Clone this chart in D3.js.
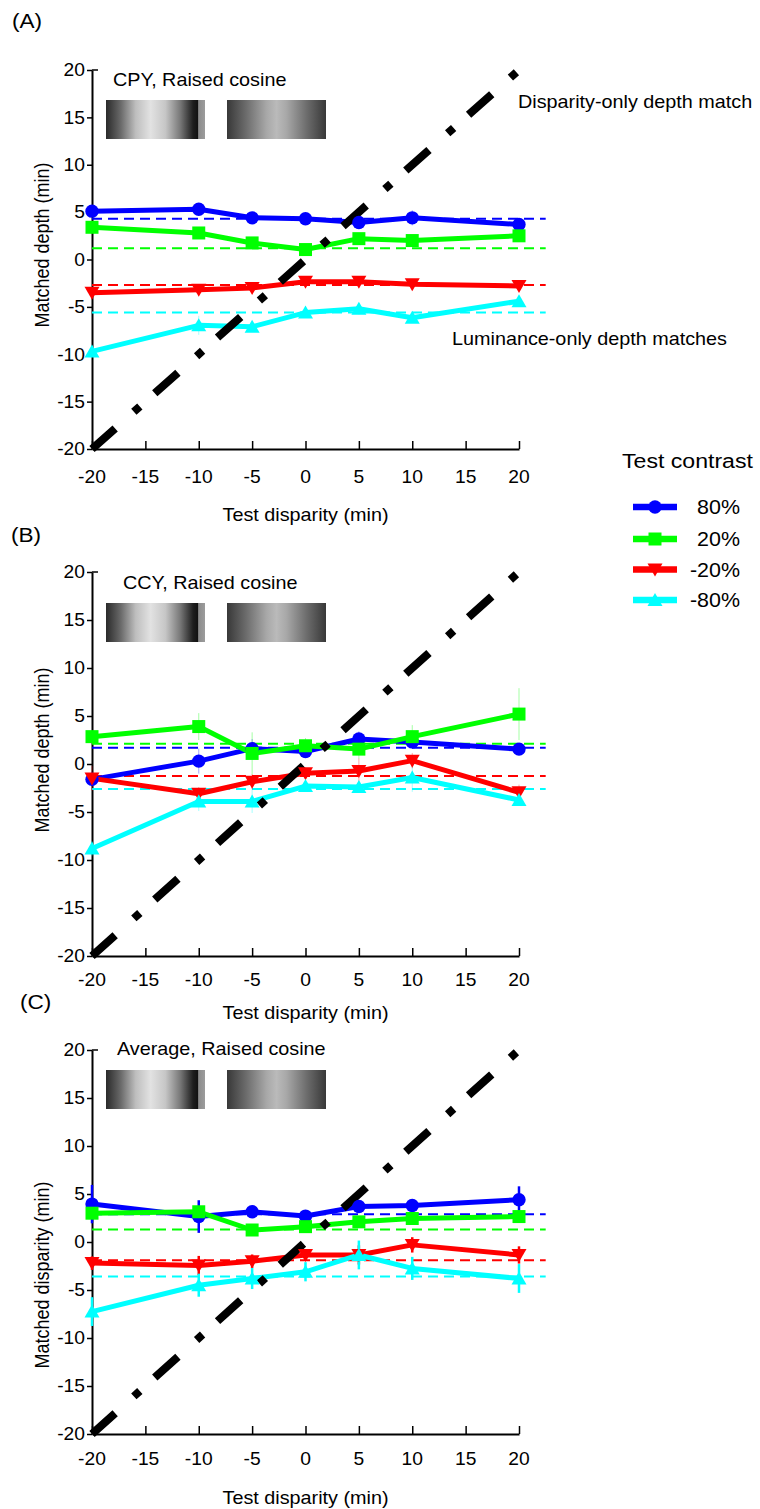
<!DOCTYPE html>
<html><head><meta charset="utf-8">
<script src="https://cdn.jsdelivr.net/npm/d3@7"></script>
<style>
body{margin:0;background:#fff}
svg{display:block}
text{font-family:"Liberation Sans",Arial,Helvetica,sans-serif;fill:#000}
</style>
</head><body>
<svg id="chart" width="760" height="1509"></svg>
<script>
// ---------- data ----------
const disparities = [-20, -10, -5, 0, 5, 10, 20];
const contrastLabels = ["80%", "20%", "-20%", "-80%"];
const xTickValues = [-20, -15, -10, -5, 0, 5, 10, 15, 20];
const yTickValues = [-20, -15, -10, -5, 0, 5, 10, 15, 20];

// Panel A: CPY
const cpy80  = [5.1, 5.3, 4.4, 4.3, 3.9, 4.4, 3.7];
const cpy20  = [3.4, 2.8, 1.75, 1.05, 2.2, 2.0, 2.5];
const cpyN20 = [-3.5, -3.2, -3.0, -2.35, -2.35, -2.6, -2.8];
const cpyN80 = [-9.7, -6.95, -7.1, -5.6, -5.2, -6.15, -4.4];
const cpyErr80  = [0.5, 0.4, 0.4, 0.3, 0.5, 0.8, 0.4];
const cpyErr20  = [0.5, 0.4, 0.4, 0.6, 0.4, 0.4, 0.4];
const cpyErrN20 = [0.5, 0.4, 0.6, 0.4, 0.5, 0.4, 0.4];
const cpyErrN80 = [0.6, 1.0, 0.5, 0.5, 0.6, 0.5, 0.5];
const cpyLuminanceOnly = [4.3, 1.2, -2.7, -5.6];

// Panel B: CCY
const ccy80  = [-1.6, 0.3, 1.6, 1.3, 2.6, 2.3, 1.55];
const ccy20  = [2.85, 3.9, 1.1, 1.9, 1.55, 2.85, 5.2];
const ccyN20 = [-1.5, -3.1, -1.85, -0.97, -0.73, 0.35, -2.95];
const ccyN80 = [-8.8, -3.9, -3.9, -2.3, -2.4, -1.4, -3.75];
const ccyErr80  = [0.8, 1.3, 1.0, 0.6, 0.8, 0.7, 0.6];
const ccyErr20  = [0.7, 1.4, 2.2, 0.8, 1.0, 1.2, 2.7];
const ccyErrN20 = [1.3, 0.7, 0.8, 0.6, 1.3, 0.8, 0.8];
const ccyErrN80 = [0.8, 1.0, 1.2, 0.5, 0.6, 1.5, 0.6];
const ccyLuminanceOnly = [1.7, 2.1, -1.25, -2.6];

// Panel C: Average
const avg80  = [3.95, 2.65, 3.15, 2.7, 3.7, 3.8, 4.4];
const avg20  = [3.0, 3.15, 1.25, 1.6, 2.1, 2.45, 2.65];
const avgN20 = [-2.2, -2.45, -2.0, -1.35, -1.35, -0.3, -1.35];
const avgN80 = [-7.25, -4.5, -3.8, -3.1, -1.35, -2.75, -3.8];
const avgErr80  = [2.0, 1.7, 0.6, 0.5, 0.5, 0.5, 1.4];
const avgErr20  = [0.6, 0.6, 0.5, 0.5, 0.5, 0.5, 0.6];
const avgErrN20 = [0.7, 1.0, 0.7, 0.6, 1.0, 0.8, 0.9];
const avgErrN80 = [1.5, 1.2, 1.1, 1.0, 1.5, 1.2, 1.5];
const avgLuminanceOnly = [2.9, 1.3, -1.9, -3.6];

// ---------- styles ----------
const colors = ["#0000ff", "#00ff00", "#ff0000", "#00ffff"];
const markerTypes = ["circle", "square", "down", "up"];
const SX = 1.1; // horizontal text stretch of the original figure

const svg = d3.select("#chart");

function txt(sel, x, y, s, size, anchor) {
  return sel.append("text")
    .attr("transform", `translate(${x},${y}) scale(${SX},1)`)
    .attr("font-size", size)
    .attr("text-anchor", anchor || "start")
    .text(s);
}

function markerPath(type) {
  if (type === "circle") return d3.symbol(d3.symbolCircle, 140)();
  if (type === "square") return "M-6.5,-6.5H6.5V6.5H-6.5Z";
  if (type === "down") return "M-7.5,-6L7.5,-6L0,7Z";
  return "M-7.5,6L7.5,6L0,-7Z";
}

// gradient definitions for the stimulus thumbnails
const defs = svg.append("defs");
const g1 = defs.append("linearGradient").attr("id", "stim1");
[[0, "#2a2a2a"], [0.15, "#6a6a6a"], [0.3, "#bebebe"], [0.45, "#e2e2e2"], [0.6, "#c6c6c6"],
 [0.75, "#787878"], [0.88, "#1e1e1e"], [0.93, "#111"], [0.935, "#8c8c8c"], [1, "#9c9c9c"]]
  .forEach(([o, c]) => g1.append("stop").attr("offset", o).attr("stop-color", c));
const g2 = defs.append("linearGradient").attr("id", "stim2");
[[0, "#383838"], [0.2, "#6e6e6e"], [0.4, "#a8a8a8"], [0.5, "#bababa"], [0.6, "#a8a8a8"],
 [0.8, "#6e6e6e"], [1, "#383838"]]
  .forEach(([o, c]) => g2.append("stop").attr("offset", o).attr("stop-color", c));

const panels = [
  { label: "(A)", labelX: 12, labelY: 28, top: 70, bottom: 449,
    header: "CPY, Raised cosine", headerX: 113, headerY: 86, stimY: 100,
    series: [cpy80, cpy20, cpyN20, cpyN80], errs: [cpyErr80, cpyErr20, cpyErrN20, cpyErrN80],
    means: cpyLuminanceOnly, errStyle: "faint",
    xLabelOff: 28, xTitleY: 521, yTitle: "Matched depth (min)", yTitleCenter: 245 },
  { label: "(B)", labelX: 11, labelY: 542, top: 572, bottom: 956,
    header: "CCY, Raised cosine", headerX: 123, headerY: 589, stimY: 603,
    series: [ccy80, ccy20, ccyN20, ccyN80], errs: [ccyErr80, ccyErr20, ccyErrN20, ccyErrN80],
    means: ccyLuminanceOnly, errStyle: "faint",
    xLabelOff: 24, xTitleY: 1019, yTitle: "Matched depth (min)", yTitleCenter: 750 },
  { label: "(C)", labelX: 20, labelY: 1009, top: 1050, bottom: 1434,
    header: "Average, Raised cosine", headerX: 117, headerY: 1055, stimY: 1070,
    series: [avg80, avg20, avgN20, avgN80], errs: [avgErr80, avgErr20, avgErrN20, avgErrN80],
    means: avgLuminanceOnly, errStyle: "solid",
    xLabelOff: 25, xTitleY: 1504, yTitle: "Matched disparity (min)", yTitleCenter: 1275 }
];

const LEFT = 92, RIGHT = 519;

panels.forEach(p => {
  const g = svg.append("g");
  const x = d3.scaleLinear().domain([-20, 20]).range([LEFT, RIGHT]);
  const y = d3.scaleLinear().domain([-20, 20]).range([p.bottom, p.top]);

  // panel label
  txt(g, p.labelX, p.labelY, p.label, 20.5);

  // stimulus thumbnails
  g.append("rect").attr("x", LEFT + 14).attr("y", p.stimY).attr("width", 99).attr("height", 39)
    .attr("fill", "url(#stim1)");
  g.append("rect").attr("x", LEFT + 135).attr("y", p.stimY).attr("width", 99).attr("height", 39)
    .attr("fill", "url(#stim2)");
  txt(g, p.headerX, p.headerY, p.header, 18);

  // axes
  const yAxis = d3.axisLeft(y).tickValues(yTickValues).tickSize(5).tickPadding(4).tickSizeOuter(0);
  const ya = g.append("g").attr("transform", `translate(${LEFT},0)`).call(yAxis);
  ya.select(".domain").attr("stroke", "#000").attr("stroke-width", 2);
  ya.selectAll(".tick line").attr("stroke-width", 1.5);
  ya.selectAll(".tick text").remove();
  yTickValues.forEach(v => txt(g, LEFT - 7, y(v) + 6.3, String(v), 17.5, "end"));
  // inward tick at top
  g.append("line").attr("x1", LEFT).attr("x2", LEFT + 6).attr("y1", y(20)).attr("y2", y(20))
    .attr("stroke", "#000").attr("stroke-width", 1.5);

  const xAxis = d3.axisBottom(x).tickValues(xTickValues).tickSize(-8).tickSizeOuter(0);
  const xa = g.append("g").attr("transform", `translate(0,${p.bottom})`).call(xAxis);
  xa.select(".domain").attr("stroke", "#000").attr("stroke-width", 2);
  xa.selectAll(".tick line").attr("stroke-width", 1.5);
  xa.selectAll(".tick text").remove();
  xTickValues.forEach(v => txt(g, x(v), p.bottom + p.xLabelOff + 6.3, String(v), 17.5, "middle"));

  txt(g, (LEFT + RIGHT) / 2, p.xTitleY, "Test disparity (min)", 18, "middle");
  g.append("text")
    .attr("transform", `translate(49,${p.yTitleCenter}) rotate(-90) scale(1,${SX})`)
    .attr("font-size", 18).attr("text-anchor", "middle").text(p.yTitle);

  // luminance-only (mean) dashed lines
  p.means.forEach((m, i) => {
    g.append("line").attr("x1", x(-20)).attr("x2", x(22.5)).attr("y1", y(m)).attr("y2", y(m))
      .attr("stroke", colors[i]).attr("stroke-width", 2).attr("stroke-dasharray", "10,6");
  });

  // error bars
  p.series.forEach((s, i) => {
    s.forEach((v, k) => {
      const e = p.errs[i][k];
      g.append("line").attr("x1", x(disparities[k])).attr("x2", x(disparities[k]))
        .attr("y1", y(v - e)).attr("y2", y(v + e))
        .attr("stroke", colors[i])
        .attr("stroke-width", p.errStyle === "solid" ? 2.5 : 1)
        .attr("opacity", p.errStyle === "solid" ? 1 : 0.35);
    });
  });

  // data lines
  const line = d3.line().x((d, k) => x(disparities[k])).y(d => y(d));
  p.series.forEach((s, i) => {
    g.append("path").attr("d", line(s)).attr("fill", "none")
      .attr("stroke", colors[i]).attr("stroke-width", 5).attr("stroke-linejoin", "round");
  });

  // disparity-only diagonal (dash-dot)
  const L = Math.hypot(x(1) - x(0), y(0) - y(1));
  g.append("line").attr("x1", x(-20)).attr("y1", y(-20)).attr("x2", x(20)).attr("y2", y(20))
    .attr("stroke", "#000").attr("stroke-width", 8)
    .attr("stroke-dasharray", [2.17, 1.75, 0.56, 1.40].map(v => (v * L).toFixed(2)).join(","));

  // markers
  p.series.forEach((s, i) => {
    s.forEach((v, k) => {
      g.append("path").attr("d", markerPath(markerTypes[i]))
        .attr("transform", `translate(${x(disparities[k])},${y(v)})`)
        .attr("fill", colors[i]);
    });
  });
});

// annotations in panel A
txt(svg, 518, 108, "Disparity-only depth match", 18);
txt(svg, 452, 345, "Luminance-only depth matches", 18);

// legend
const lg = svg.append("g");
txt(lg, 622, 468, "Test contrast", 21);
const legendY = [507, 539, 569.5, 600];
contrastLabels.forEach((lab, i) => {
  lg.append("line").attr("x1", 633).attr("x2", 677).attr("y1", legendY[i]).attr("y2", legendY[i])
    .attr("stroke", colors[i]).attr("stroke-width", 6.5);
  lg.append("path").attr("d", markerPath(markerTypes[i]))
    .attr("transform", `translate(655,${legendY[i]})`).attr("fill", colors[i]);
  txt(lg, 740, legendY[i] + 7, lab, 19.5, "end");
});
</script>
</body></html>
